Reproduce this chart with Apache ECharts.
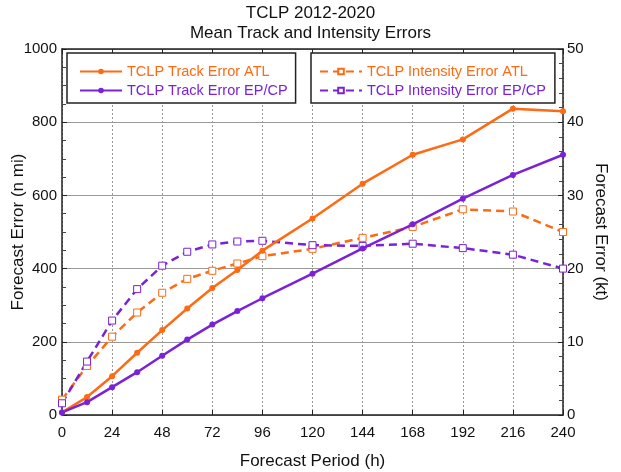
<!DOCTYPE html>
<html>
<head>
<meta charset="utf-8">
<script src="https://cdn.jsdelivr.net/npm/echarts@6/dist/echarts.min.js"></script>
<style>
html,body{margin:0;padding:0;background:#fff;}
#c{width:621px;height:472px;}
</style>
</head>
<body>
<div id="c"></div>
<script>
var hours = [0, 12, 24, 36, 48, 60, 72, 84, 96, 120, 144, 168, 192, 216, 240];
var trackATL = [7, 49, 106, 170, 232, 291, 347, 396, 449, 537, 632, 711, 753, 837, 830];
var trackEPCP = [7, 35, 76, 117, 162, 206, 247, 284, 319, 386, 455, 521, 591, 656, 711];
var intensityATL = [2.1, 6.7, 10.7, 14.0, 16.7, 18.6, 19.7, 20.7, 21.7, 22.7, 24.2, 25.7, 28.1, 27.8, 25.0];
var intensityEPCP = [1.6, 7.3, 12.9, 17.2, 20.4, 22.3, 23.3, 23.7, 23.8, 23.2, 23.1, 23.4, 22.8, 21.9, 20.0];
var seriesNames = ['TCLP Track Error ATL', 'TCLP Track Error EP/CP', 'TCLP Intensity Error ATL', 'TCLP Intensity Error EP/CP'];

var ORANGE = '#ff6a13';
var PURPLE = '#7a22d8';
var FONT = 'Liberation Sans, Arial, Helvetica, sans-serif';

function pairs(xs, ys) { return xs.map(function (x, i) { return [x, ys[i]]; }); }

var chart = echarts.init(document.getElementById('c'), null, {renderer: 'canvas'});

function trackSeries(name, color, data) {
  return {
    name: name, type: 'line', xAxisIndex: 0, yAxisIndex: 0,
    data: pairs(hours, data),
    symbol: 'circle', symbolSize: 6, showAllSymbol: true,
    lineStyle: {color: color, width: 2.5, type: 'solid'},
    itemStyle: {color: color, borderColor: color, borderWidth: 0},
    z: 4, animation: false
  };
}
function intSeries(name, color, data) {
  return {
    name: name, type: 'line', xAxisIndex: 0, yAxisIndex: 1,
    data: pairs(hours, data),
    symbol: 'rect', symbolSize: 7, showAllSymbol: true,
    lineStyle: {color: color, width: 2.5, type: [8, 5]},
    itemStyle: {color: '#ffffff', borderColor: color, borderWidth: 1},
    z: 3, animation: false
  };
}

var legendBase = {
  orient: 'vertical', top: 53, itemWidth: 42, itemHeight: 7, itemGap: 4,
  borderColor: '#222', borderWidth: 1.5,
  backgroundColor: '#ffffff', selectedMode: false,
  textStyle: {fontFamily: FONT, fontSize: 14.5}, z: 10
};

var option = {
  backgroundColor: '#ffffff',
  animation: false,
  title: {
    text: 'TCLP 2012-2020\nMean Track and Intensity Errors',
    left: 'center', top: 0, padding: [3, 5, 5, 5],
    textStyle: {fontFamily: FONT, fontSize: 17, fontWeight: 'normal', color: '#111', lineHeight: 20}
  },
  legend: [
    Object.assign({}, legendBase, {
      left: 67, padding: [11, 8, 5, 12],
      data: [
        {name: seriesNames[0], textStyle: {color: ORANGE}},
        {name: seriesNames[1], textStyle: {color: PURPLE}}
      ]
    }),
    Object.assign({}, legendBase, {
      left: 311, padding: [11, 9, 5, 8],
      data: [
        {name: seriesNames[2], textStyle: {color: ORANGE}},
        {name: seriesNames[3], textStyle: {color: PURPLE}}
      ]
    })
  ],
  grid: {left: 62, right: 58, top: 49, bottom: 57, containLabel: false, outerBoundsMode: 'none'},
  xAxis: [
    {
      type: 'value', position: 'bottom', min: 0, max: 240, interval: 24,
      name: 'Forecast Period (h)', nameLocation: 'middle', nameGap: 38, nameMoveOverlap: false,
      nameTextStyle: {fontFamily: FONT, fontSize: 17, color: '#111'},
      axisLine: {show: true, lineStyle: {color: '#222', width: 1.5}},
      axisTick: {show: true, inside: true, length: 5, lineStyle: {color: '#222'}},
      axisLabel: {fontFamily: FONT, fontSize: 15, color: '#111', margin: 10},
      splitLine: {show: true, lineStyle: {color: '#999', width: 1, type: [2, 2]}}
    },
    {
      type: 'value', position: 'top', min: 0, max: 240, interval: 24,
      axisLine: {show: true, onZero: false, lineStyle: {color: '#222', width: 1.5}},
      axisTick: {show: true, inside: true, length: 5, lineStyle: {color: '#222'}},
      axisLabel: {show: false},
      splitLine: {show: false}
    }
  ],
  yAxis: [
    {
      type: 'value', position: 'left', min: 0, max: 1000, interval: 200,
      name: 'Forecast Error (n mi)', nameLocation: 'middle', nameGap: 35, nameRotate: 90, nameMoveOverlap: false,
      nameTextStyle: {fontFamily: FONT, fontSize: 17, color: '#111'},
      axisLine: {show: true, onZero: false, lineStyle: {color: '#222', width: 1.5}},
      axisTick: {show: true, inside: true, length: 5, lineStyle: {color: '#222'}},
      minorTick: {show: true, splitNumber: 4, length: 4, lineStyle: {color: '#444'}},
      axisLabel: {fontFamily: FONT, fontSize: 15, color: '#111', margin: 5,
        formatter: function (v) { return String(v); }},
      splitLine: {show: true, lineStyle: {color: '#999', width: 1}}
    },
    {
      type: 'value', position: 'right', min: 0, max: 50, interval: 10,
      name: 'Forecast Error (kt)', nameLocation: 'middle', nameGap: 29, nameRotate: -90, nameMoveOverlap: false,
      nameTextStyle: {fontFamily: FONT, fontSize: 17, color: '#111'},
      axisLine: {show: true, onZero: false, lineStyle: {color: '#222', width: 1.5}},
      axisTick: {show: true, inside: true, length: 5, lineStyle: {color: '#222'}},
      minorTick: {show: true, splitNumber: 5, length: 4, lineStyle: {color: '#444'}},
      axisLabel: {fontFamily: FONT, fontSize: 15, color: '#111', margin: 4},
      splitLine: {show: false}
    }
  ],
  series: [
    trackSeries(seriesNames[0], ORANGE, trackATL),
    trackSeries(seriesNames[1], PURPLE, trackEPCP),
    intSeries(seriesNames[2], ORANGE, intensityATL),
    intSeries(seriesNames[3], PURPLE, intensityEPCP)
  ]
};
chart.setOption(option);
</script>
</body>
</html>
